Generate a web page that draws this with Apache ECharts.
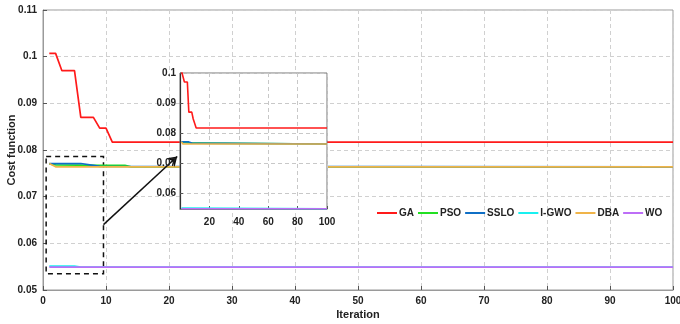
<!DOCTYPE html>
<html>
<head>
<meta charset="utf-8">
<script src="https://cdn.jsdelivr.net/npm/echarts@6/dist/echarts.min.js"></script>
<style>
	html, body { margin: 0; padding: 0; background: #fff; }
	#cost_chart { width: 680px; height: 324px; }
</style>
</head>
<body>
<div id="cost_chart"></div>
<script>
// 收敛曲线数据（只记录拐点，其余保持不变）
var names = ['GA', 'PSO', 'SSLO', 'I-GWO', 'DBA', 'WO'];
var colors = ['#ff1a1a', '#22e022', '#0f6fc6', '#19f0f0', '#f0b449', '#bd6ef7'];

var gaIter = [1, 2, 3, 5, 6, 8, 9, 10, 11, 100];
var gaCost = [0.1007, 0.1007, 0.0970, 0.0970, 0.0870, 0.0870, 0.0847, 0.0847, 0.0817, 0.0817];

var psoIter = [1, 2, 9, 13, 14, 100];
var psoCost = [0.0770, 0.0768, 0.0767, 0.0767, 0.0764, 0.0764];

var ssloIter = [1, 6, 8, 9, 100];
var ssloCost = [0.0771, 0.0771, 0.0767, 0.0765, 0.0764];

var igwoIter = [1, 5, 6, 100];
var igwoCost = [0.0551, 0.0551, 0.0549, 0.0549];

var dbaIter = [1, 2, 100];
var dbaCost = [0.0771, 0.0764, 0.0764];

var woIter = [1, 100];
var woCost = [0.0549, 0.0549];

// 放大框与箭头（数据坐标）
var zoomBox = [[0.5, 0.0786], [9.6, 0.0535]];
var arrowFrom = [9.6, 0.0640];
var arrowTo = [21.3, 0.0786];

var allIter = [gaIter, psoIter, ssloIter, igwoIter, dbaIter, woIter];
var allCost = [gaCost, psoCost, ssloCost, igwoCost, dbaCost, woCost];

function pairs(xs, ys) {
	var out = [];
	for (var i = 0; i < xs.length; i++) {
		out.push([xs[i], ys[i]]);
	}
	return out;
}

var font = 'Liberation Sans, Arial';
var txt = { fontFamily: font, fontWeight: 'bold', fontSize: 10, color: '#222' };

var series = [];
// 主图
for (var i = 0; i < names.length; i++) {
	series.push({
		name: names[i],
		type: 'line',
		xAxisIndex: 0,
		yAxisIndex: 0,
		symbol: 'none',
		z: 2,
		lineStyle: { width: 1.7, color: colors[i] },
		itemStyle: { color: colors[i] },
		data: pairs(allIter[i], allCost[i])
	});
}
// 局部放大图
for (var j = 0; j < names.length; j++) {
	series.push({
		name: names[j],
		type: 'line',
		xAxisIndex: 1,
		yAxisIndex: 1,
		symbol: 'none',
		z: 8,
		lineStyle: { width: 1.6, color: colors[j] },
		itemStyle: { color: colors[j] },
		data: pairs(allIter[j], allCost[j])
	});
}
// 虚线框 + 箭头
series.push({
	type: 'line',
	xAxisIndex: 0,
	yAxisIndex: 0,
	data: [],
	z: 3,
	markArea: {
		silent: true,
		itemStyle: { color: 'rgba(0,0,0,0)', borderColor: '#111', borderWidth: 1.5, borderType: [5, 4] },
		data: [[{ coord: zoomBox[0] }, { coord: zoomBox[1] }]]
	},
	markLine: {
		silent: true,
		symbol: ['none', 'arrow'],
		symbolSize: 9,
		label: { show: false },
		lineStyle: { color: '#111', width: 1.5, type: 'solid' },
		data: [[{ coord: arrowFrom }, { coord: arrowTo }]]
	}
});

var chartObj = echarts.init(document.getElementById('cost_chart'));

var option = {
	animation: false,
	backgroundColor: '#fff',
	textStyle: { fontFamily: font },
	legend: {
		data: names,
		left: 372,
		top: 203,
		width: 320,
		icon: 'rect',
		itemWidth: 20,
		itemHeight: 2,
		itemGap: 4,
		textStyle: { fontFamily: font, fontWeight: 'bold', fontSize: 10, color: '#222', padding: [0, 0, 0, -3] }
	},
	grid: [
		{ left: 43, right: 7, top: 10, bottom: 34, show: true, borderColor: '#9a9a9a', borderWidth: 1,
			outerBoundsMode: 'none' },
		{ left: 180, top: 73, width: 147, height: 136, show: true, z: 5, outerBoundsMode: 'none',
			backgroundColor: '#fff', borderColor: '#777', borderWidth: 1 }
	],
	xAxis: [
		{
			gridIndex: 0, type: 'value', min: 0, max: 100, interval: 10,
			name: 'Iteration', nameLocation: 'middle', nameGap: 19, nameMoveOverlap: false,
			nameTextStyle: { fontFamily: font, fontWeight: 'bold', fontSize: 11, color: '#222' },
			axisLine: { lineStyle: { color: '#9a9a9a' } },
			axisTick: { inside: true, length: 4, lineStyle: { color: '#555' } },
			axisLabel: Object.assign({ margin: 6 }, txt),
			splitLine: { show: true, lineStyle: { color: '#d0d0d0', type: [4, 3] } }
		},
		{
			gridIndex: 1, type: 'value', min: 0, max: 100, interval: 20, z: 6,
			axisLine: { lineStyle: { color: '#777' } },
			axisTick: { inside: true, length: 3, lineStyle: { color: '#555' } },
			axisLabel: Object.assign({ margin: 8, showMinLabel: false }, txt),
			splitLine: { show: true, lineStyle: { color: '#c8c8c8', type: [4, 3] } }
		}
	],
	yAxis: [
		{
			gridIndex: 0, type: 'value', min: 0.05, max: 0.11, interval: 0.01,
			name: 'Cost function', nameLocation: 'middle', nameGap: 26, nameMoveOverlap: false,
			nameTextStyle: { fontFamily: font, fontWeight: 'bold', fontSize: 11, color: '#222' },
			axisLine: { show: true, lineStyle: { color: '#9a9a9a' } },
			axisTick: { inside: true, length: 4, lineStyle: { color: '#555' } },
			axisLabel: Object.assign({ margin: 6 }, txt),
			splitLine: { show: true, lineStyle: { color: '#d0d0d0', type: [4, 3] } }
		},
		{
			gridIndex: 1, type: 'value', min: 0.0548, max: 0.1, splitNumber: 5, z: 6,
			axisLine: { show: true, lineStyle: { color: '#333', width: 1.2 } },
			axisTick: { inside: true, length: 3, lineStyle: { color: '#555' } },
			axisLabel: Object.assign({ margin: 4, showMinLabel: false }, txt),
			splitLine: { show: true, lineStyle: { color: '#c8c8c8', type: [4, 3] } }
		}
	],
	series: series
};

chartObj.setOption(option);
</script>
</body>
</html>
